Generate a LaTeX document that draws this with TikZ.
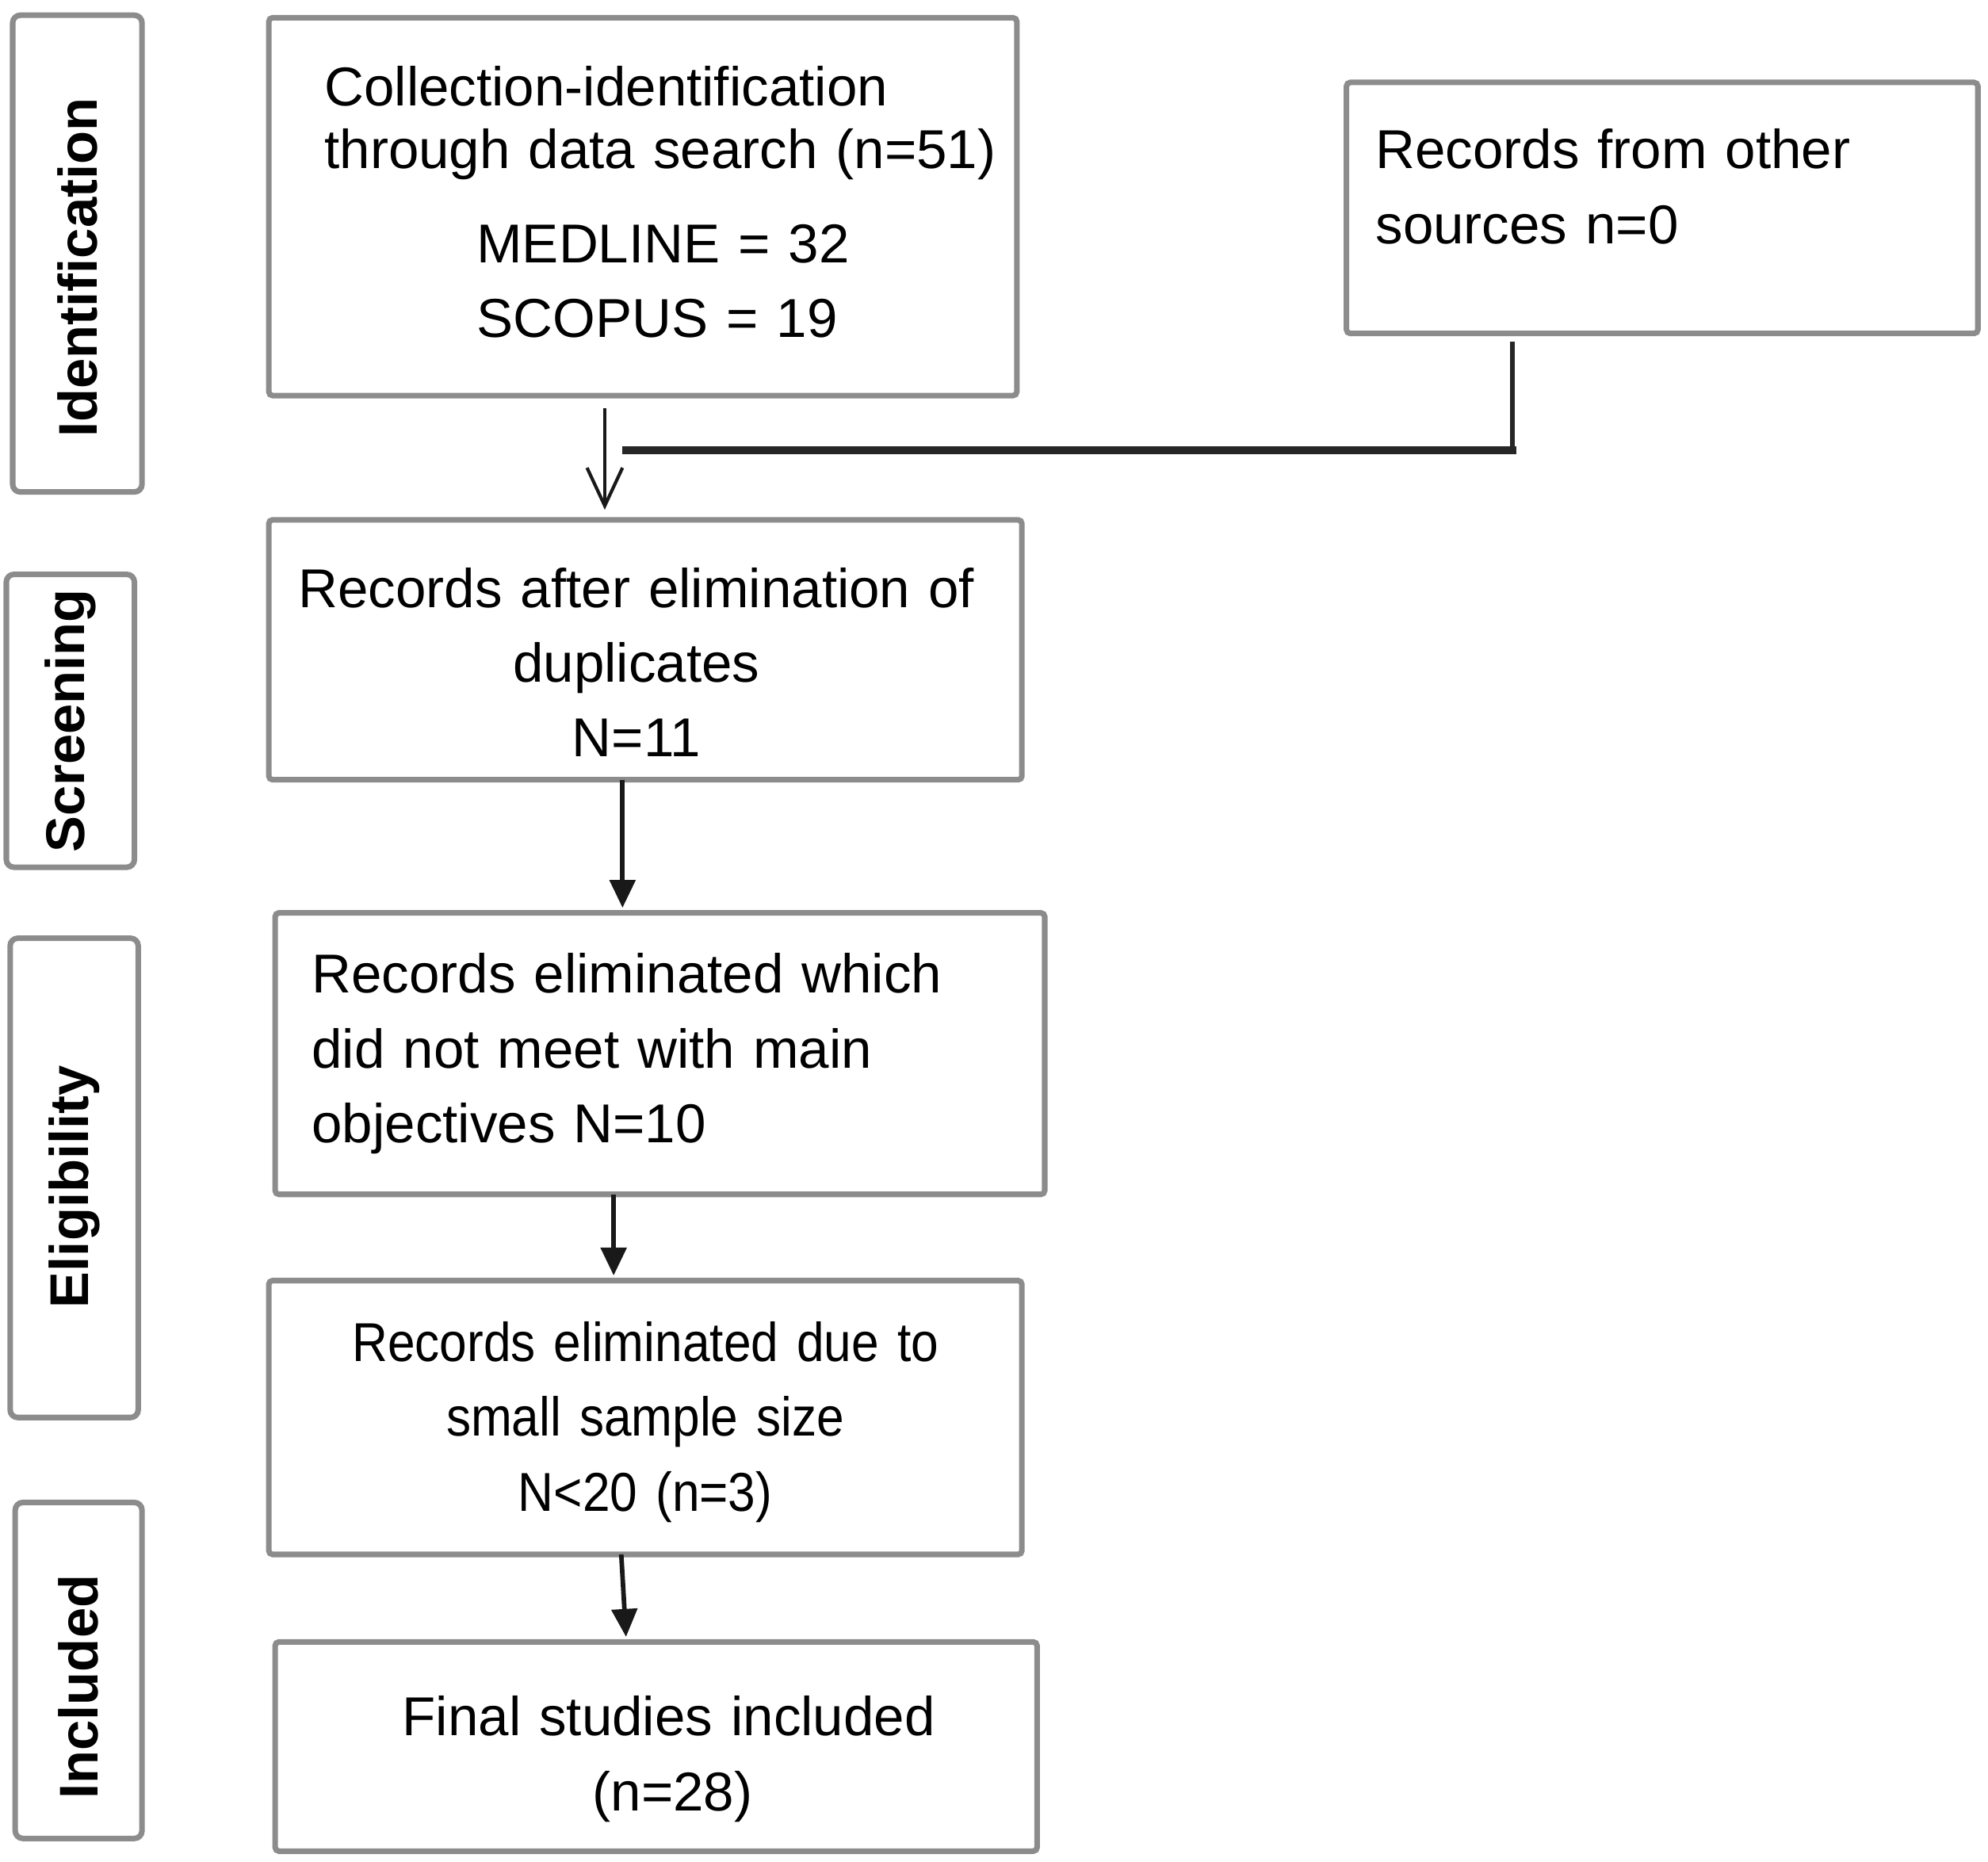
\documentclass[tikz,border=0pt]{standalone}
\usepackage{fontspec}
\setmainfont{Liberation Sans}
\newfontfamily\narrowfont[FakeStretch=0.9]{Liberation Sans}
\usetikzlibrary{positioning,arrows.meta}

\begin{document}
\begin{tikzpicture}[x=1pt,y=1pt,>={Triangle[length=11pt,width=10pt]},shorten >=2pt,
    box/.style={draw=black!45,line width=2.2pt,rounded corners=1.5pt,inner ysep=4pt,outer sep=0pt,
        font=\fontsize{21.6pt}{29.5pt}\selectfont},
    leftbox/.style={box,align=left},
    midbox/.style={box,align=center,inner xsep=8pt},
    phase/.style={draw=black!45,line width=2.2pt,rounded corners=3pt,rotate=90,outer sep=0pt,
        font=\bfseries\fontsize{21.5pt}{26pt}\selectfont},
    flow/.style={->,black!90,line width=1.8pt},
    feed/.style={black!85,line width=1.8pt,line cap=rect}]
    \useasboundingbox (0,0) rectangle (784,-734);

    % stages on the left
    \node[phase,minimum width=188pt,minimum height=51pt] (ident) at (30.5,-100) {Identification\hspace*{11pt}};
    \node[phase,minimum width=115.5pt,minimum height=50.5pt] (screen) at (27.75,-284.25) {Screening};
    \node[phase,minimum width=189pt,minimum height=50.5pt] (elig) at (29.25,-464.5) {Eligibility\hspace*{7pt}};
    \node[phase,minimum width=132.5pt,minimum height=50pt] (incl) at (31,-658.75) {Included\hspace*{13pt}};

    % boxes
    \node[leftbox,text width=283pt,inner xsep=6pt,minimum height=149pt,anchor=north west] (search) at (106,-7)
        {\hspace*{16pt}Collection-identification\\[-4.5pt]\hspace*{16pt}through data search (n=51)\\[7.5pt]\hspace*{76pt}MEDLINE = 32\\\hspace*{76pt}SCOPUS = 19\\[-25.5pt]\mbox{}};
    \node[leftbox,text width=226pt,inner xsep=11.5pt,minimum height=99pt] (other) [right=130pt of search.north east,anchor=north west,yshift=-25.5pt]
        {Records from other\\sources n=0\\[-12.5pt]\mbox{}};
    \node[midbox,text width=281pt,minimum height=102.5pt] (dupl) [below=49pt of search.south west,anchor=north west]
        {\mbox{}\\[-4pt]Records after elimination of\kern7pt\\duplicates\kern7pt\\N=11\kern7pt};
    \node[leftbox,text width=274.5pt,inner xsep=14.5pt,minimum height=111pt] (objectives) [below=52.5pt of dupl.south west,anchor=north west,xshift=2.5pt]
        {Records eliminated which\\did not meet with main\\objectives N=10};
    \node[midbox,text width=281pt,minimum height=108pt] (sample) [below=34pt of objectives.south west,anchor=north west,xshift=-2.5pt]
        {\narrowfont\mbox{}\\[-10.4pt]Records eliminated due to\\small sample size\\N<20 (n=3)};
    \node[midbox,text width=284.5pt,minimum height=82.5pt] (final) [below=34.5pt of sample.south west,anchor=north west,xshift=2.5pt]
        {\mbox{}\\[-4pt]\hspace*{10pt}Final studies included\\\hspace*{13pt}(n=28)};

    % connectors
    \coordinate (corner) at (596.5,-177.5);
    \coordinate (join) at (244.75,-177.5);
    \draw[->,>={Straight Barb[length=15pt,width=14pt]},black!90,line width=1.3pt,shorten >=0pt]
        ([xshift=-15pt,yshift=-5pt]search.south) -- ([xshift=-16pt,yshift=4pt]dupl.north);
    \draw[feed] ([yshift=-4pt]other.south -| corner) -- (corner);
    \draw[feed,line width=3pt] (corner) -- (join);
    \draw[flow] ([xshift=-9pt]dupl.south) -- ([xshift=-14.75pt]objectives.north);
    \draw[flow] ([xshift=-18.25pt]objectives.south) -- ([xshift=-12.5pt]sample.north);
    \draw[flow] ([xshift=-9.5pt]sample.south) -- ([xshift=-11.75pt]final.north);
\end{tikzpicture}
\end{document}
